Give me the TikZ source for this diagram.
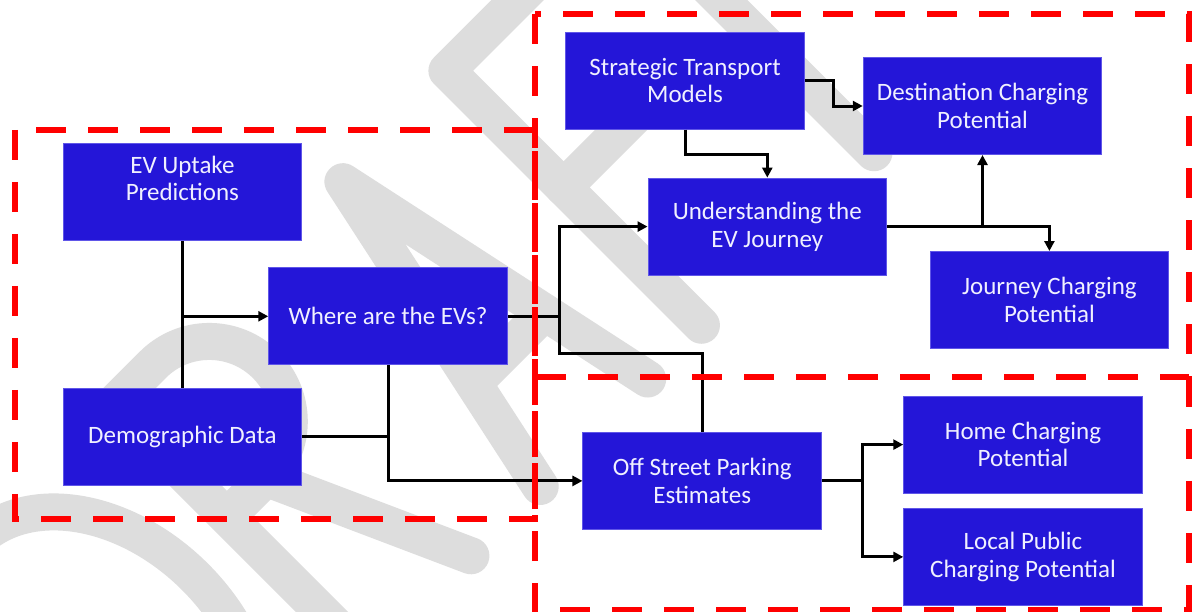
\documentclass[tikz,border=0pt]{standalone}
\usepackage{fontspec}
\setmainfont{Carlito}
\usetikzlibrary{arrows.meta,calc}

\definecolor{boxblue}{RGB}{36,22,216}
\definecolor{boxedge}{RGB}{96,86,232}
\definecolor{boxtext}{RGB}{240,240,255}
\definecolor{wmgray}{RGB}{221,221,221}

\tikzset{
  box/.style={rectangle, fill=boxblue, draw=boxedge, line width=1pt,
    minimum width=238.5pt, minimum height=97pt, inner sep=0pt,
    text=boxtext, align=center, font=\fontsize{25}{27.5}\selectfont},
  link/.style={draw=black, line width=3pt},
  arr/.style={link, -{Triangle[length=10pt,width=10pt]}},
  zone/.style={draw=red, line width=6pt, dash pattern=on 30pt off 22pt},
  wm/.style={draw=wmgray, line width=37pt, line cap=round, line join=round}
}

\begin{document}
\begin{tikzpicture}[x=1pt, y=-1pt]
\useasboundingbox (0,0) rectangle (1199,611);
\clip (0,0) rectangle (1199,611);
\fill[white] (0,0) rectangle (1199,611);

% DRAFT watermark, stroked letters along a 45 degree baseline
\begin{scope}[shift={(527.5,527.5)}, y=1pt, rotate=45]
  % D
  \draw[wm] (-470,20) -- (-470,380) -- (-400,380)
    arc[start angle=90, end angle=-90, x radius=130, y radius=180] -- cycle;
  % R
  \draw[wm] (-205,20) -- (-205,380) -- (-150,380)
    arc[start angle=90, end angle=-90, radius=80] -- (-205,220);
  \draw[wm] (-150,220) -- (-60,20);
  % A
  \draw[wm] (38,20) -- (114,375) -- (190,20);
  \draw[wm] (64,140) -- (164,140);
  % F
  \draw[wm] (266,20) -- (266,380) -- (410,380);
  \draw[wm] (266,215) -- (395,215);
  % T
  \draw[wm] (430,380) -- (600,380);
  \draw[wm] (510,380) -- (510,20);
\end{scope}

% process boxes
\node[box] (ev)    at (182.4,192.1) {EV Uptake\\Predictions\\\mbox{}};
\node[box] (demo)  at (182.4,436.5) {Demographic Data};
\node[box] (where) at (388.0,316.3) {Where are the EVs?};
\node[box] (strat) at (685.0,80.7)  {Strategic Transport\\Models};
\node[box] (dest)  at (982.5,106.0) {Destination Charging\\Potential};
\node[box] (und)   at (767.3,226.6) {Understanding the\\EV Journey};
\node[box] (jour)  at (1049.4,300.0) {Journey Charging\\Potential};
\node[box] (off)   at (702.2,480.9) {Off Street Parking\\Estimates};
\node[box] (home)  at (1023.0,444.6) {Home Charging\\Potential};
\node[box] (local) at (1023.0,556.9) {Local Public\\Charging Potential};

\coordinate (jb) at (559,353.9);

% connectors
\draw[link] (ev.south) -- (demo.north);
\draw[arr] (ev.south |- where.west) -- (where.west);
\draw[link] (demo.east) -- (demo.east -| where.south);
\draw[arr] (where.south) |- (off.west);
\draw[link] (where.east) -- (where.east -| jb);
\draw[arr] (off.north) |- (jb) |- (und.west);
\draw[arr] (strat.east) -- ++(28.6,0) |- (dest.west);
\draw[arr] (strat.south) -- ++(0,24.6) -| (und.north);
\draw[arr] (und.east) -| (jour.north);
\draw[arr] (und.east -| dest.south) -- (dest.south);
\draw[arr] (off.east) -- ++(41,0) |- (home.west);
\draw[arr] (off.east) -- ++(41,0) |- (local.west);

% dashed zones; the lower right zone shares its top edge with the upper one
\draw[zone] (14.5,129.8) rectangle (535,519);
\draw[zone] (535,14) rectangle (1189,376.8);
\draw[zone] (1189,376.8) -- (1189,610) -- (535,610) -- (535,376.8);
\end{tikzpicture}
\end{document}
